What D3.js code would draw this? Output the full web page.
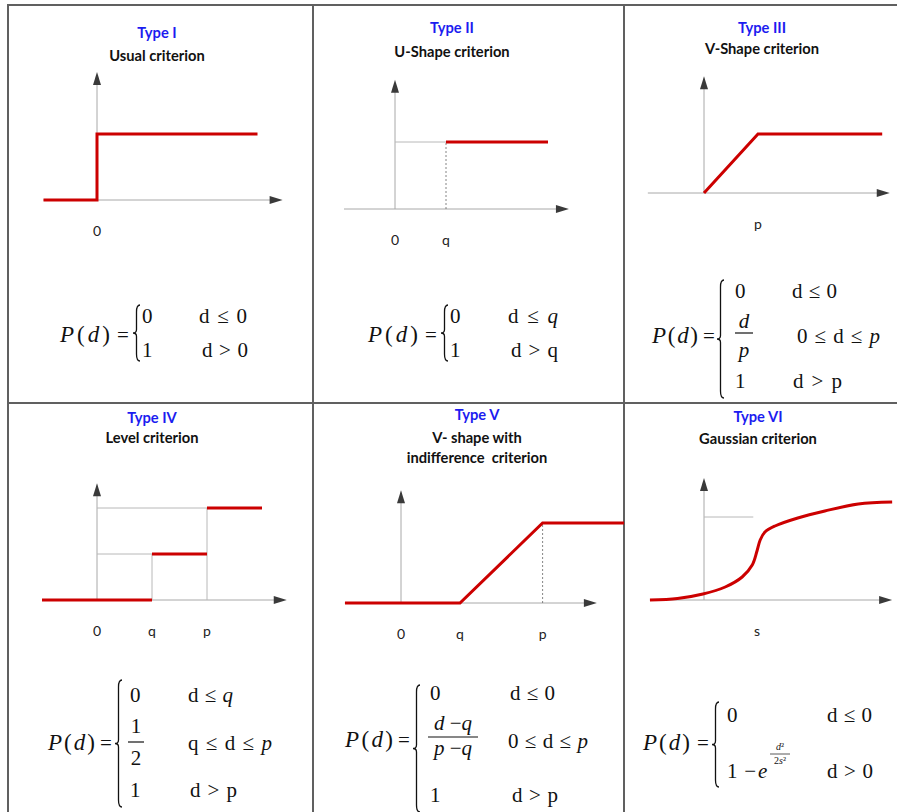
<!DOCTYPE html>
<html>
<head>
<meta charset="utf-8">
<script src="https://cdn.jsdelivr.net/npm/d3@7"></script>
<style>
  body { margin: 0; background: #fff; }
  text { white-space: pre; }
</style>
</head>
<body>
<svg id="chart" width="897" height="812"></svg>
<script>
// titles and axis labels of the six preference function types
const typeLabels = ["Type I", "Type II", "Type III", "Type IV", "Type V", "Type VI"];
const criterionNames = [
  ["Usual criterion"],
  ["U-Shape criterion"],
  ["V-Shape criterion"],
  ["Level criterion"],
  ["V- shape with", "indifference  criterion"],
  ["Gaussian criterion"]
];
const tickLabels = [["0"], ["0", "q"], ["p"], ["0", "q", "p"], ["0", "q", "p"], ["s"]];
const tickValues = [[0], [0, 1], [1], [0, 1, 2], [0, 1, 2.4], [1]];

// the curves, x in threshold units, y = P(d)
const usualX = [-1, 0, 0, 3];
const usualY = [0, 0, 1, 1];
const uShapeX = [1, 3];
const uShapeY = [1, 1];
const vShapeX = [0, 1, 3.3];
const vShapeY = [0, 1, 1];
const levelX = [[-1, 1], [1, 2], [2, 3]];
const levelY = [0, 0.5, 1];
const vIndiffX = [-0.95, 1, 2.4, 3.78];
const vIndiffY = [0, 0, 1, 1];
const gaussX = [-1.02, -0.5, -0.02, 0.4, 0.72, 0.91, 1.0, 1.06, 1.15, 1.34, 1.77, 2.28, 2.91, 3.55];
const gaussY = [0, 0.015, 0.06, 0.13, 0.23, 0.35, 0.49, 0.6, 0.68, 0.74, 0.82, 0.89, 0.96, 0.98];

const svg = d3.select("#chart");
const red = "#cc0000";
const serif = "'Liberation Serif','Times New Roman',serif";
const sans = "Lato, 'Open Sans', sans-serif";

// panel layout: origin, unit sizes, axis extents, title position
const panels = [
  {ox: 97,  oy: 200, ux: 53.5, uy: 66,  xa: [-1, 3.47], ya: 1.94, tx: 157, ty: [38, 61]},
  {ox: 395, oy: 209, ux: 51,   uy: 67,  xa: [-1, 3.41], ya: 1.93, tx: 452, ty: [33, 57]},
  {ox: 704, oy: 193, ux: 54,   uy: 59,  xa: [-1.04, 3.44], ya: 1.98, tx: 762, ty: [33, 54]},
  {ox: 97,  oy: 600, ux: 55,   uy: 92,  xa: [-1, 3.45], ya: 1.27, tx: 152, ty: [423, 443]},
  {ox: 401, oy: 603, ux: 59,   uy: 80,  xa: [-0.95, 3.32], ya: 1.41, tx: 477, ty: [420, 443, 463]},
  {ox: 704, oy: 600, ux: 53,   uy: 100, xa: [-1, 3.55], ya: 1.22, tx: 758, ty: [422, 444]}
];

// grid lines of the table
const grid = svg.append("g").attr("stroke", "#606060").attr("stroke-width", 2);
grid.append("line").attr("x1", 8).attr("x2", 897).attr("y1", 5).attr("y2", 5);
grid.append("line").attr("x1", 8).attr("x2", 897).attr("y1", 403).attr("y2", 403);
[8, 313, 624].forEach(x => grid.append("line").attr("x1", x).attr("x2", x).attr("y1", 4).attr("y2", 812));

panels.forEach((p, i) => {
  p.x = d3.scaleLinear().domain([0, 1]).range([p.ox, p.ox + p.ux]);
  p.y = d3.scaleLinear().domain([0, 1]).range([p.oy, p.oy - p.uy]);
  const g = svg.append("g");

  // titles
  g.append("text").attr("x", p.tx).attr("y", p.ty[0]).attr("text-anchor", "middle")
    .attr("font-family", sans).attr("font-weight", "bold").attr("font-size", 14.7)
    .attr("fill", "#1c1cf0").text(typeLabels[i]);
  criterionNames[i].forEach((t, k) => {
    g.append("text").attr("x", p.tx).attr("y", p.ty[k + 1]).attr("text-anchor", "middle")
      .attr("font-family", sans).attr("font-weight", "bold").attr("font-size", 14.7)
      .attr("fill", "#111").text(t);
  });

  // axes with arrow heads
  const xEnd = p.x(p.xa[1]), yEnd = p.y(p.ya);
  g.append("line").attr("x1", p.x(p.xa[0])).attr("x2", xEnd - 10)
    .attr("y1", p.oy).attr("y2", p.oy).attr("stroke", "#a8a8a8").attr("stroke-width", 1);
  g.append("line").attr("x1", p.ox).attr("x2", p.ox)
    .attr("y1", p.oy).attr("y2", yEnd + 10).attr("stroke", "#a8a8a8").attr("stroke-width", 1);
  g.append("path").attr("fill", "#3a3a3a")
    .attr("d", `M${xEnd},${p.oy}L${xEnd - 13},${p.oy - 4}L${xEnd - 13},${p.oy + 4}Z`);
  g.append("path").attr("fill", "#3a3a3a")
    .attr("d", `M${p.ox},${yEnd}L${p.ox - 4},${yEnd + 13}L${p.ox + 4},${yEnd + 13}Z`);

  // tick labels
  tickValues[i].forEach((v, k) => {
    g.append("text").attr("x", p.x(v)).attr("y", p.oy + 36).attr("text-anchor", "middle")
      .attr("font-family", sans).attr("font-size", 14).attr("fill", "#222")
      .text(tickLabels[i][k]);
  });
  p.g = g;
});

// helper lines (guides)
function guide(p, x1, y1, x2, y2, dashed) {
  p.g.append("line").attr("x1", p.x(x1)).attr("y1", p.y(y1)).attr("x2", p.x(x2)).attr("y2", p.y(y2))
    .attr("stroke", dashed ? "#666" : "#b8b8b8").attr("stroke-width", dashed ? 0.8 : 1)
    .attr("stroke-dasharray", dashed ? "2,2" : null);
}
guide(panels[1], 0, 1, 1, 1);
guide(panels[1], 1, 0, 1, 1, true);
guide(panels[3], 0, 0.5, 1, 0.5);
guide(panels[3], 0, 1, 2, 1);
guide(panels[3], 1, 0, 1, 0.5);
guide(panels[3], 2, 0, 2, 1);
guide(panels[4], 2.4, 0, 2.4, 1, true);
guide(panels[5], 0, 0.83, 0.93, 0.83);

// red preference curves
function curve(p, xs, ys, c) {
  const line = d3.line().x(d => p.x(d[0])).y(d => p.y(d[1]));
  if (c) line.curve(c);
  p.g.append("path").datum(d3.zip(xs, ys)).attr("d", line)
    .attr("fill", "none").attr("stroke", red).attr("stroke-width", 3)
    .attr("stroke-linejoin", "miter");
}
curve(panels[0], usualX, usualY);
curve(panels[1], uShapeX, uShapeY);
curve(panels[2], vShapeX, vShapeY);
levelX.forEach((seg, k) => curve(panels[3], seg, [levelY[k], levelY[k]]));
curve(panels[4], vIndiffX, vIndiffY);
curve(panels[5], gaussX, gaussY, d3.curveCatmullRom.alpha(0.5));

// formulas: *...* marks italic, w stretches the text to a width
function tex(x, y, s, anchor, size, w) {
  const t = svg.append("text").attr("x", x).attr("y", y)
    .attr("font-family", serif).attr("font-size", size || 21)
    .attr("text-anchor", anchor || "start").attr("fill", "#111");
  if (w) t.attr("textLength", w).attr("lengthAdjust", "spacing");
  s.split("*").forEach((part, k) => {
    if (part) t.append("tspan").attr("font-style", k % 2 ? "italic" : "normal").text(part);
  });
}
// left hand side "P(d) ="
function lhs(x, x2, eqX, y) {
  tex(x, y, "*P*(*d*)", "start", 23, x2 - x - 2);
  tex(eqX, y, "=", "start", 21);
}
function brace(x, y0, y1) {
  const w = 7, m = (y0 + y1) / 2, c = x + w / 2;
  svg.append("path").attr("fill", "none").attr("stroke", "#111").attr("stroke-width", 1.3)
    .attr("d", `M${x + w},${y0}Q${c},${y0} ${c},${y0 + w}L${c},${m - w / 2}Q${c},${m} ${x},${m}` +
      `Q${c},${m} ${c},${m + w / 2}L${c},${y1 - w}Q${c},${y1} ${x + w},${y1}`);
}
function bar(x1, x2, y, sw) {
  svg.append("line").attr("x1", x1).attr("x2", x2).attr("y1", y).attr("y2", y)
    .attr("stroke", "#111").attr("stroke-width", sw || 1.2);
}

// Type I
lhs(60, 112, 117, 342);
brace(133, 305, 361);
tex(142, 323, "0"); tex(142, 357, "1");
tex(199, 323, "d ≤ 0", "start", 21, 48); tex(202, 357, "d > 0", "start", 21, 46);

// Type II
lhs(368, 420, 425, 342);
brace(441, 305, 361);
tex(450, 323, "0"); tex(450, 357, "1");
tex(508, 323, "d ≤ *q*", "start", 21, 50); tex(511, 357, "d > q", "start", 21, 47);

// Type III
lhs(652, 700, 703, 343);
brace(717, 280, 398);
tex(735, 298, "0");
tex(744, 328, "*d*", "middle"); bar(735, 753, 333); tex(744, 357, "*p*", "middle");
tex(735, 388, "1");
tex(792, 298, "d ≤ 0", "start", 21, 45);
tex(797, 343, "0 ≤ d ≤ *p*", "start", 21, 83);
tex(793, 388, "d > p", "start", 21, 49);

// Type IV
lhs(48, 97, 100, 750);
brace(115, 680, 807);
tex(130, 702, "0");
tex(136, 733, "1", "middle"); bar(128, 144, 742); tex(136, 765, "2", "middle");
tex(130, 797, "1");
tex(188, 702, "d ≤ *q*", "start", 21, 45);
tex(188, 750, "q ≤ d ≤ *p*", "start", 21, 84);
tex(190, 797, "d > p", "start", 21, 47);

// Type V
lhs(345, 395, 398, 747);
brace(413, 685, 812);
tex(430, 700, "0");
tex(453, 730, "*d* −*q*", "middle"); bar(428, 478, 737); tex(453, 755, "*p* −*q*", "middle");
tex(430, 802, "1");
tex(510, 700, "d ≤ 0", "start", 21, 45);
tex(508, 748, "0 ≤ d ≤ *p*", "start", 21, 80);
tex(512, 802, "d > p", "start", 21, 46);

// Type VI
lhs(643, 692, 697, 750);
brace(712, 702, 787);
tex(727, 722, "0");
tex(727, 778, "1−", "start", 21, 29); tex(758, 778, "*e*");
tex(780, 750, "*d*²", "middle", 10); bar(770, 790, 754, 0.7); tex(780, 764, "2*s*²", "middle", 10);
tex(827, 722, "d ≤ 0", "start", 21, 45); tex(827, 778, "d > 0", "start", 21, 46);
</script>
</body>
</html>
